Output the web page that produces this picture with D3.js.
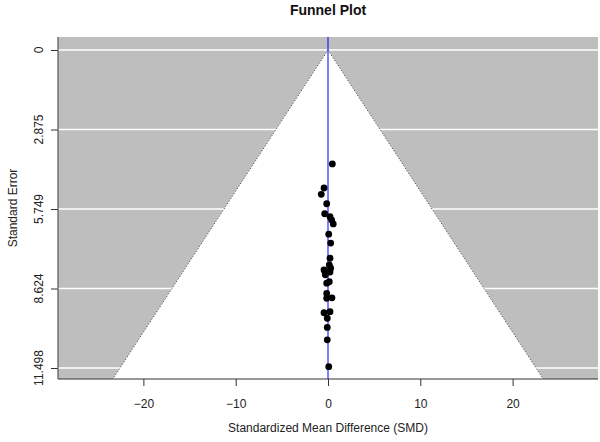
<!DOCTYPE html>
<html><head><meta charset="utf-8">
<script src="https://cdn.jsdelivr.net/npm/d3@7"></script>
<style>body{margin:0;background:#fff}svg{display:block}text{font-family:"Liberation Sans",Arial,sans-serif}</style>
</head><body>
<svg id="chart" width="600" height="442"></svg>
<script>
// Data
const smd = [0.47,-0.43,-0.73,-0.14,-0.36,0.22,0.40,0.57,0.08,0.29,0.22,0.14,-0.43,0.29,-0.33,-0.29,0.22,-0.14,0.14,-0.14,0.43,-0.14,-0.43,0.22,-0.08,-0.08,-0.08,0.08];
const se  = [4.12,4.99,5.22,5.56,5.92,6.03,6.15,6.29,6.66,6.98,7.53,7.77,7.95,7.89,8.03,8.13,8.03,8.43,8.38,8.80,8.96,8.98,9.50,9.46,9.70,10.03,10.48,11.45];
const yTicks = [0, 2.875, 5.749, 8.624, 11.498];
const yTickLabels = ["0", "2.875", "5.749", "8.624", "11.498"];
const xTicks = [-20, -10, 0, 10, 20];
const estimate = 0;
const crit = 1.96;
const title = "Funnel Plot";
const xLabel = "Standardized Mean Difference (SMD)";
const yLabel = "Standard Error";

const svg = d3.select("#chart");
const L = 58, R = 598, T = 37, B = 379;
const x = d3.scaleLinear().domain([-29.25, 29.25]).range([L, R]);
const y = d3.scaleLinear().domain([0, 11.498]).range([50, 368]);
const seTop = y.invert(T), seBot = y.invert(B);

// background
svg.append("rect").attr("x", L).attr("y", T).attr("width", R - L).attr("height", B - T).attr("fill", "#bebebe");
// grid lines
svg.selectAll(".hl").data(yTicks).join("line")
  .attr("x1", L).attr("x2", R).attr("y1", d => y(d)).attr("y2", d => y(d))
  .attr("stroke", "#ffffff").attr("stroke-width", 1.5);
// funnel region
const funnelPts = [[estimate, 0], [estimate + crit * seBot, seBot], [estimate - crit * seBot, seBot]];
svg.append("path")
  .attr("d", d3.line().x(d => x(d[0])).y(d => y(d[1]))(funnelPts) + "Z")
  .attr("fill", "#ffffff");
// funnel edges dotted
[-1, 1].forEach(s => {
  svg.append("line")
    .attr("x1", x(estimate)).attr("y1", y(0))
    .attr("x2", x(estimate + s * crit * seBot)).attr("y2", y(seBot))
    .attr("stroke", "#3a3a3a").attr("stroke-width", 1).attr("stroke-dasharray", "1,2");
});
// estimate line
svg.append("line").attr("x1", x(estimate)).attr("x2", x(estimate)).attr("y1", T).attr("y2", B)
  .attr("stroke", "#0000ff").attr("stroke-width", 1);
// points
svg.selectAll(".pt").data(smd.map((d, i) => [d, se[i]])).join("circle")
  .attr("cx", d => x(d[0])).attr("cy", d => y(d[1])).attr("r", 3.4).attr("fill", "#000");

// axes
const yAxis = svg.append("g").attr("transform", `translate(${L},0)`)
  .call(d3.axisLeft(y).tickValues(yTicks).tickFormat((d, i) => yTickLabels[i]).tickSize(7).tickPadding(0));
yAxis.select(".domain").remove();
yAxis.selectAll(".tick line").attr("stroke", "#333");
yAxis.selectAll(".tick text").remove();
svg.selectAll(".ylab").data(yTicks).join("text")
  .attr("transform", (d) => `translate(39,${y(d)}) rotate(-90)`)
  .attr("text-anchor", "middle").attr("dy", "0.35em")
  .attr("font-size", 12).attr("fill", "#222")
  .text((d, i) => yTickLabels[i]);

const xAxis = svg.append("g").attr("transform", `translate(0,${B})`)
  .call(d3.axisBottom(x).tickValues(xTicks).tickSize(7).tickPadding(13));
xAxis.select(".domain").remove();
xAxis.selectAll(".tick line").attr("stroke", "#333");
xAxis.selectAll(".tick text").attr("font-size", 12).attr("fill", "#222")
  .attr("font-family", "'Liberation Sans',Arial,sans-serif");

// L box
svg.append("line").attr("x1", L).attr("x2", R).attr("y1", B).attr("y2", B).attr("stroke", "#333").attr("stroke-width", 1.2);
svg.append("line").attr("x1", L).attr("x2", L).attr("y1", T).attr("y2", B).attr("stroke", "#555").attr("stroke-width", 1.2);

// labels
svg.append("text").attr("x", (L + R) / 2).attr("y", 15).attr("text-anchor", "middle")
  .attr("font-size", 14).attr("font-weight", "bold").attr("fill", "#111").text(title);
svg.append("text").attr("x", (L + R) / 2).attr("y", 432).attr("text-anchor", "middle")
  .attr("font-size", 12).attr("fill", "#222").text(xLabel);
svg.append("text").attr("transform", `translate(13,${(T + B) / 2}) rotate(-90)`).attr("text-anchor", "middle")
  .attr("dy", "0.35em").attr("font-size", 12).attr("fill", "#222").text(yLabel);
</script>
</body></html>
